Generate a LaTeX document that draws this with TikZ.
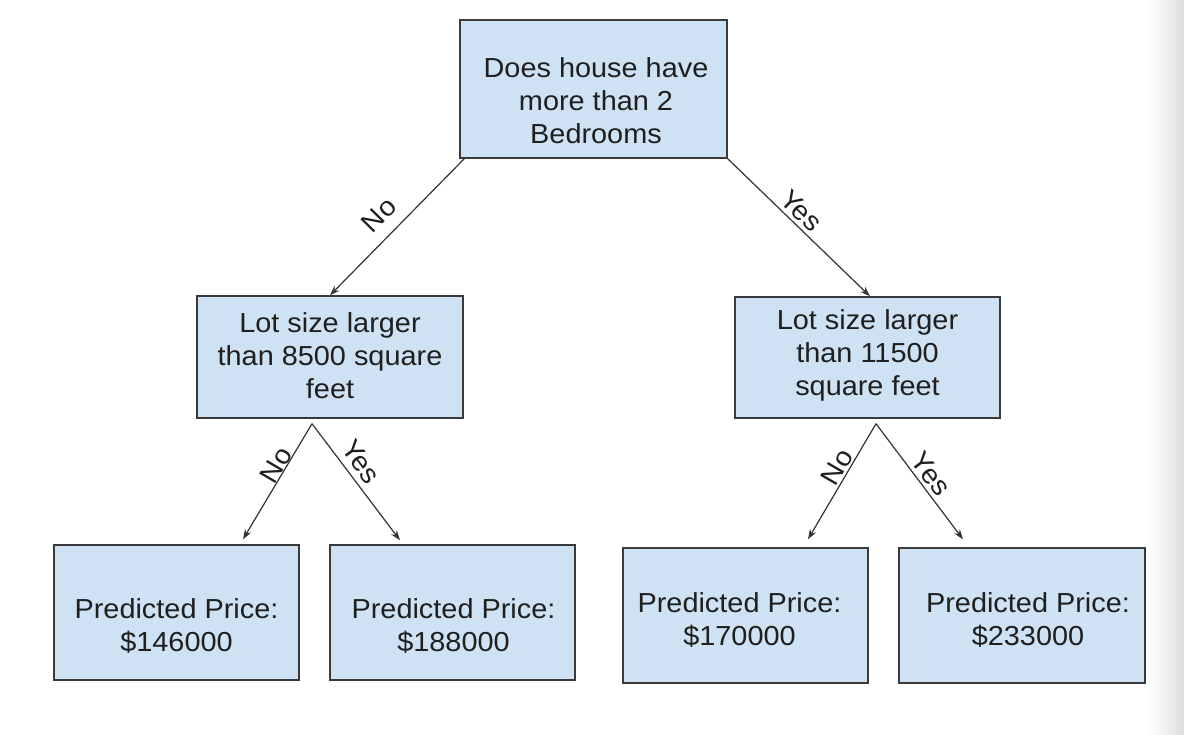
\documentclass[tikz,border=0pt]{standalone}
\usepackage{fontspec}
\setmainfont{Liberation Sans}[FakeStretch=1.05]
\usetikzlibrary{arrows.meta,calc}
\definecolor{boxfill}{HTML}{CFE2F3}
\definecolor{boxline}{HTML}{3A3A3A}
\definecolor{arrline}{HTML}{333333}
\begin{document}
\begin{tikzpicture}[x=1pt,y=-1pt,
  box/.style={draw=boxline, line width=1.4pt, fill=boxfill, inner sep=0pt},
  btext/.style={font=\fontsize{27.5}{33}\selectfont, align=center, inner sep=0pt, text=black!88},
  arr/.style={draw=arrline, line width=1.2pt, -{Stealth[length=10pt,width=7pt]}},
  lbl/.style={font=\fontsize{27}{30}\selectfont, inner sep=0pt, text=black!88}]
\useasboundingbox (0,0) rectangle (1184,734);
\fill[white] (0,0) rectangle (1184,734);
\shade[left color=white, right color=black!13] (1148,0) rectangle (1184,734);
% boxes
\node[box, minimum width=267, minimum height=138] (root) at (593.5,89) {};
\node[btext] (rootT) at ($(root.center)+(2.5,12)$) {Does house have\\more than 2\\Bedrooms};
\node[box, minimum width=266, minimum height=122] (mid1) at (330,357) {};
\node[btext] (mid1T) at ($(mid1.center)+(0,-1)$) {Lot size larger\\than 8500 square\\feet};
\node[box, minimum width=265, minimum height=121] (mid2) at (867.5,357.5) {};
\node[btext] (mid2T) at ($(mid2.center)+(0,-2)$) {Lot size larger\\than 11500\\square feet};
\node[box, minimum width=245, minimum height=135] (leaf1) at (176.5,612.5) {};
\node[btext] (leaf1T) at ($(leaf1.center)+(0,13)$) {Predicted Price:\\\$146000};
\node[box, minimum width=245, minimum height=135] (leaf2) at (452.5,612.5) {};
\node[btext] (leaf2T) at ($(leaf2.center)+(1,13)$) {Predicted Price:\\\$188000};
\node[box, minimum width=245, minimum height=135] (leaf3) at (745.5,615.5) {};
\node[btext] (leaf3T) at ($(leaf3.center)+(-6,4)$) {Predicted Price:\\\$170000};
\node[box, minimum width=246, minimum height=135] (leaf4) at (1022,615.5) {};
\node[btext] (leaf4T) at ($(leaf4.center)+(6,4)$) {Predicted Price:\\\$233000};
% connector points
\coordinate (rL) at ($(root.south west)+(5,0)$);
\coordinate (rR) at (root.south east);
\coordinate (a1) at ($(mid1.south)+(-18,5)$);
\coordinate (a2) at ($(mid2.south)+(8.5,5)$);
\coordinate (t1) at ($(leaf1.north)+(66.5,-5)$);
\coordinate (t2) at ($(leaf2.north)+(-52.5,-4)$);
\coordinate (t3) at ($(leaf3.north)+(62.5,-8)$);
\coordinate (t4) at ($(leaf4.north)+(-59,-8)$);
% connectors
\draw[arr] (rL) -- (mid1.north);
\draw[arr] (rR) -- ($(mid2.north)+(2.5,0)$);
\draw[arr] (a1) -- (t1);
\draw[arr] (a1) -- (t2);
\draw[arr] (a2) -- (t3);
\draw[arr] (a2) -- (t4);
% labels
\node[lbl, rotate=45.6] (lRootNo) at (379,215) {No};
\node[lbl, rotate=-44] (lRootYes) at (801,211) {Yes};
\node[lbl, rotate=59.5] (lM1No) at (276,465) {No};
\node[lbl, rotate=-54] (lM1Yes) at (361,462) {Yes};
\node[lbl, rotate=59.8] (lM2No) at (837,467) {No};
\node[lbl, rotate=-53.4] (lM2Yes) at (931,474) {Yes};
\end{tikzpicture}
\end{document}
